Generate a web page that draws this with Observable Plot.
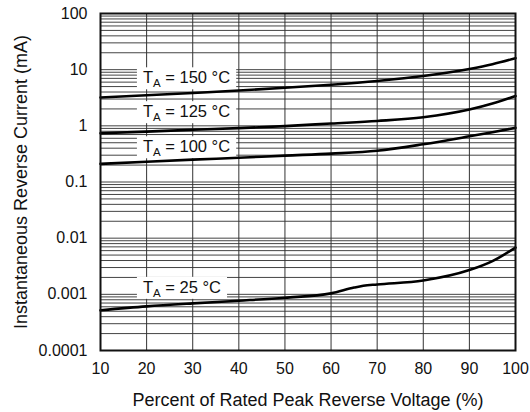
<!DOCTYPE html>
<html><head><meta charset="utf-8">
<script src="https://cdn.jsdelivr.net/npm/d3@7"></script>
<script src="https://cdn.jsdelivr.net/npm/@observablehq/plot@0.6"></script>
<style>
body{margin:0;background:#fff}
svg{font-family:"Liberation Sans",Arial,Helvetica,sans-serif}
g[aria-label="x-axis label"] text, g[aria-label="y-axis label"] text{font-size:18px}
g[aria-label="x-axis tick label"] text, g[aria-label="y-axis tick label"] text{font-size:16px}
</style>
</head><body><div id="chart"></div>
<script>
// ---- data ----
const voltageA = [10, 20, 30, 40, 50, 60, 70, 80, 90, 95, 100];
const current150 = [3.2, 3.5, 3.85, 4.25, 4.75, 5.4, 6.3, 7.7, 10.3, 12.5, 16];
const current125 = [0.74, 0.79, 0.85, 0.91, 0.99, 1.1, 1.22, 1.42, 1.95, 2.5, 3.4];
const current100 = [0.21, 0.23, 0.25, 0.27, 0.295, 0.32, 0.36, 0.47, 0.65, 0.77, 0.92];
const voltage25 = [10, 20, 30, 40, 50, 60, 65, 67, 70, 80, 90, 95, 100];
const current25 = [0.00052, 0.00061, 0.00069, 0.00077, 0.00087, 0.00104, 0.00132, 0.00142, 0.0015, 0.00176, 0.0027, 0.0039, 0.0068];

const xTicks = [10, 20, 30, 40, 50, 60, 70, 80, 90, 100];
const xGrid = [20, 30, 40, 50, 60, 70, 80, 90];
const yTicks = [0.0001, 0.001, 0.01, 0.1, 1, 10, 100];
const yTickLabels = ["0.0001", "0.001", "0.01", "0.1", "1", "10", "100"];
const decades = [0.0001, 0.001, 0.01, 0.1, 1, 10];
const mantissas = [1, 2, 3, 4, 5, 6, 7, 8, 9];

const labelText = ["TA = 150 °C", "TA = 125 °C", "TA = 100 °C", "TA = 25 °C"];
const labelX = [19.2, 19.2, 19.2, 19.2];
const labelY = [7.1, 1.77, 0.42, 0.00132];

// ---- derived tables ----
const series = [
  ...voltageA.map((v, i) => ({v, c: current150[i], s: "150"})),
  ...voltageA.map((v, i) => ({v, c: current125[i], s: "125"})),
  ...voltageA.map((v, i) => ({v, c: current100[i], s: "100"})),
  ...voltage25.map((v, i) => ({v, c: current25[i], s: "25"}))
];
const yGrid = decades.flatMap(d => mantissas.map(m => m * d)).concat([100]);
const labels = labelText.map((t, i) => ({t, x: labelX[i], y: labelY[i]}));

const chart = Plot.plot({
  width: 530,
  height: 412,
  marginLeft: 100,
  marginRight: 15,
  marginTop: 13,
  marginBottom: 62,
  style: {fontFamily: '"Liberation Sans", Arial, Helvetica, sans-serif', fontSize: "16px", color: "#111"},
  x: {domain: [10, 100], ticks: xTicks, tickSize: 0, tickPadding: 12, tickFormat: d => String(d),
      label: "Percent of Rated Peak Reverse Voltage (%)", labelAnchor: "center", labelOffset: 55, labelArrow: "none"},
  y: {type: "log", domain: [0.0001, 100], ticks: yTicks, tickSize: 0, tickPadding: 13,
      tickFormat: d => yTickLabels[yTicks.indexOf(d)],
      label: "Instantaneous Reverse Current (mA)", labelAnchor: "center", labelOffset: 86, labelArrow: "none"},
  marks: [
    Plot.ruleY(yGrid, {stroke: "#444", strokeWidth: 1}),
    Plot.ruleX(xGrid, {stroke: "#333", strokeWidth: 1}),
    Plot.text(labels, {x: "x", y: "y", text: "t", textAnchor: "start", fontSize: 16.5, fill: "#111", className: "tlabel"}),
    Plot.line(series, {x: "v", y: "c", z: "s", stroke: "#000", strokeWidth: 2.6, curve: "monotone-x"}),
    Plot.frame({stroke: "#111", strokeWidth: 2})
  ]
});
document.getElementById("chart").appendChild(chart);

// strip any auto arrows from axis labels
chart.querySelectorAll('g[aria-label="x-axis label"] text, g[aria-label="y-axis label"] text').forEach(t => {
  t.textContent = t.textContent.replace(/\s*[→↑←↓]\s*/g, "").trim();
});

// subscript + white boxes for curve labels
const ns = "http://www.w3.org/2000/svg";
chart.querySelectorAll("g.tlabel text").forEach(t => {
  const txt = t.textContent;
  const rest = txt.slice(2);
  while (t.firstChild) t.removeChild(t.firstChild);
  const s1 = document.createElementNS(ns, "tspan"); s1.textContent = "T";
  const s2 = document.createElementNS(ns, "tspan"); s2.textContent = "A";
  s2.setAttribute("font-size", "11.5"); s2.setAttribute("dy", "4");
  const s3 = document.createElementNS(ns, "tspan"); s3.textContent = rest;
  s3.setAttribute("dy", "-4");
  t.appendChild(s1); t.appendChild(s2); t.appendChild(s3);
  const b = t.getBBox();
  const r = document.createElementNS(ns, "rect");
  r.setAttribute("x", b.x - 6);
  r.setAttribute("y", b.y - 1);
  r.setAttribute("width", b.width + 12);
  r.setAttribute("height", b.height + 1);
  r.setAttribute("fill", "#fff");
  if (t.getAttribute("transform")) r.setAttribute("transform", t.getAttribute("transform"));
  t.parentNode.insertBefore(r, t);
});
</script>
</body></html>
